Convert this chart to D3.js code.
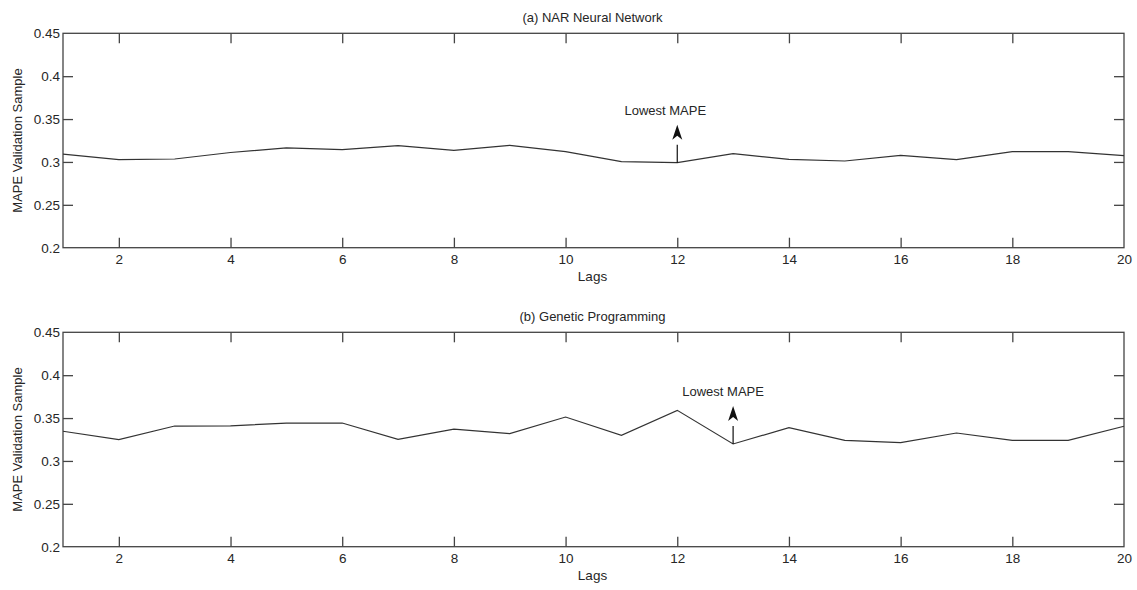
<!DOCTYPE html>
<html>
<head>
<meta charset="utf-8">
<script src="https://cdn.jsdelivr.net/npm/d3@7"></script>
<style>
  body { margin: 0; background: #fff; }
  svg text { font-family: "Liberation Sans", Arial, sans-serif; fill: #262626; }
</style>
</head>
<body>
<div id="chart"></div>
<script>
// data
var lags = [1, 2, 3, 4, 5, 6, 7, 8, 9, 10, 11, 12, 13, 14, 15, 16, 17, 18, 19, 20];
var narMape = [0.309, 0.3026, 0.3034, 0.311, 0.3163, 0.3143, 0.319, 0.3136, 0.3194, 0.312,
               0.3003, 0.2991, 0.3096, 0.3031, 0.3011, 0.3077, 0.3026, 0.312, 0.312, 0.3073];
var gpMape = [0.3346, 0.3248, 0.3407, 0.341, 0.3442, 0.3442, 0.3252, 0.3372, 0.3318, 0.3512,
              0.3299, 0.359, 0.3198, 0.3388, 0.324, 0.3213, 0.3326, 0.324, 0.324, 0.3404];
var xTicks = [2, 4, 6, 8, 10, 12, 14, 16, 18, 20];
var yTicks = [0.2, 0.25, 0.3, 0.35, 0.4, 0.45];
var titles = ["(a) NAR Neural Network", "(b) Genetic Programming"];
var lowestLag = [12, 13];
var labelShift = [-12, -10];

var W = 1137, H = 590;
var left = 63, plotW = 1061, plotH = 214.4;
var tops = [33.3, 332.3];

var svg = d3.select("#chart").append("svg")
    .attr("width", W)
    .attr("height", H);

var x = d3.scaleLinear().domain([1, 20]).range([0, plotW]);
var y = d3.scaleLinear().domain([0.2, 0.45]).range([plotH, 0]);

var axisColor = "#444";

function drawPanel(i, values) {
    var g = svg.append("g").attr("transform", "translate(" + left + "," + tops[i] + ")");

    // bottom axis with labels, ticks pointing in
    var xb = g.append("g").attr("transform", "translate(0," + plotH + ")")
        .call(d3.axisBottom(x).tickValues(xTicks).tickSizeInner(-10).tickSizeOuter(0).tickPadding(14));
    var xt = g.append("g")
        .call(d3.axisTop(x).tickValues(xTicks).tickSizeInner(-10).tickSizeOuter(0).tickFormat(""));
    var yl = g.append("g")
        .call(d3.axisLeft(y).tickValues(yTicks).tickSizeInner(-10).tickSizeOuter(0).tickPadding(3)
            .tickFormat(function (d) { return d3.format("")(+d.toFixed(2)); }));
    var yr = g.append("g").attr("transform", "translate(" + plotW + ",0)")
        .call(d3.axisRight(y).tickValues(yTicks).tickSizeInner(-10).tickSizeOuter(0).tickFormat(""));

    [xb, xt, yl, yr].forEach(function (a) {
        a.selectAll(".domain").remove();
        a.selectAll("line").attr("stroke", axisColor).attr("stroke-width", 1.3);
        a.selectAll("text").attr("font-size", 13.5).attr("font-family", "Liberation Sans, Arial, sans-serif")
            .attr("fill", "#262626");
    });
    xb.selectAll("text").attr("dy", "0.2em");
    // ticks that sit on the frame are not drawn
    xb.selectAll(".tick line").filter(function (d) { return d == 20; }).remove();
    xt.selectAll(".tick line").filter(function (d) { return d == 20; }).remove();
    yl.selectAll(".tick line").filter(function (d) { return d == 0.2 || d == 0.45; }).remove();
    yr.selectAll(".tick line").filter(function (d) { return d == 0.2 || d == 0.45; }).remove();

    // box
    g.append("rect")
        .attr("width", plotW)
        .attr("height", plotH)
        .attr("fill", "none")
        .attr("stroke", axisColor)
        .attr("stroke-width", 1.3);

    var line = d3.line()
        .x(function (d, k) { return x(lags[k]); })
        .y(function (d) { return y(d); });

    g.append("path")
        .datum(values)
        .attr("d", line)
        .attr("fill", "none")
        .attr("stroke", "#333")
        .attr("stroke-width", 1.2);

    // lowest MAPE annotation
    var k = lags.indexOf(lowestLag[i]);
    var px = x(lowestLag[i]);
    var py = y(values[k]);
    var tip = py - 38;
    g.append("line")
        .attr("x1", px).attr("x2", px)
        .attr("y1", py).attr("y2", py - 18)
        .attr("stroke", "#111")
        .attr("stroke-width", 1.2);
    g.append("path")
        .attr("d", "M" + px + "," + tip + " L" + (px + 5) + "," + (tip + 15) +
            " L" + px + "," + (tip + 11) + " L" + (px - 5) + "," + (tip + 15) + " Z")
        .attr("fill", "#111");
    g.append("text")
        .attr("x", px + labelShift[i])
        .attr("y", tip - 10)
        .attr("text-anchor", "middle")
        .attr("font-size", 13)
        .text("Lowest MAPE");

    // title
    g.append("text")
        .attr("x", plotW / 2 - 1)
        .attr("y", -11)
        .attr("text-anchor", "middle")
        .attr("font-size", 13)
        .text(titles[i]);

    // x label
    g.append("text")
        .attr("x", plotW / 2 - 1)
        .attr("y", plotH + 33)
        .attr("text-anchor", "middle")
        .attr("font-size", 13.5)
        .text("Lags");

    // y label
    g.append("text")
        .attr("transform", "translate(-41," + (plotH / 2) + ") rotate(-90)")
        .attr("text-anchor", "middle")
        .attr("font-size", 13)
        .text("MAPE Validation Sample");
}

drawPanel(0, narMape);
drawPanel(1, gpMape);
</script>
</body>
</html>
